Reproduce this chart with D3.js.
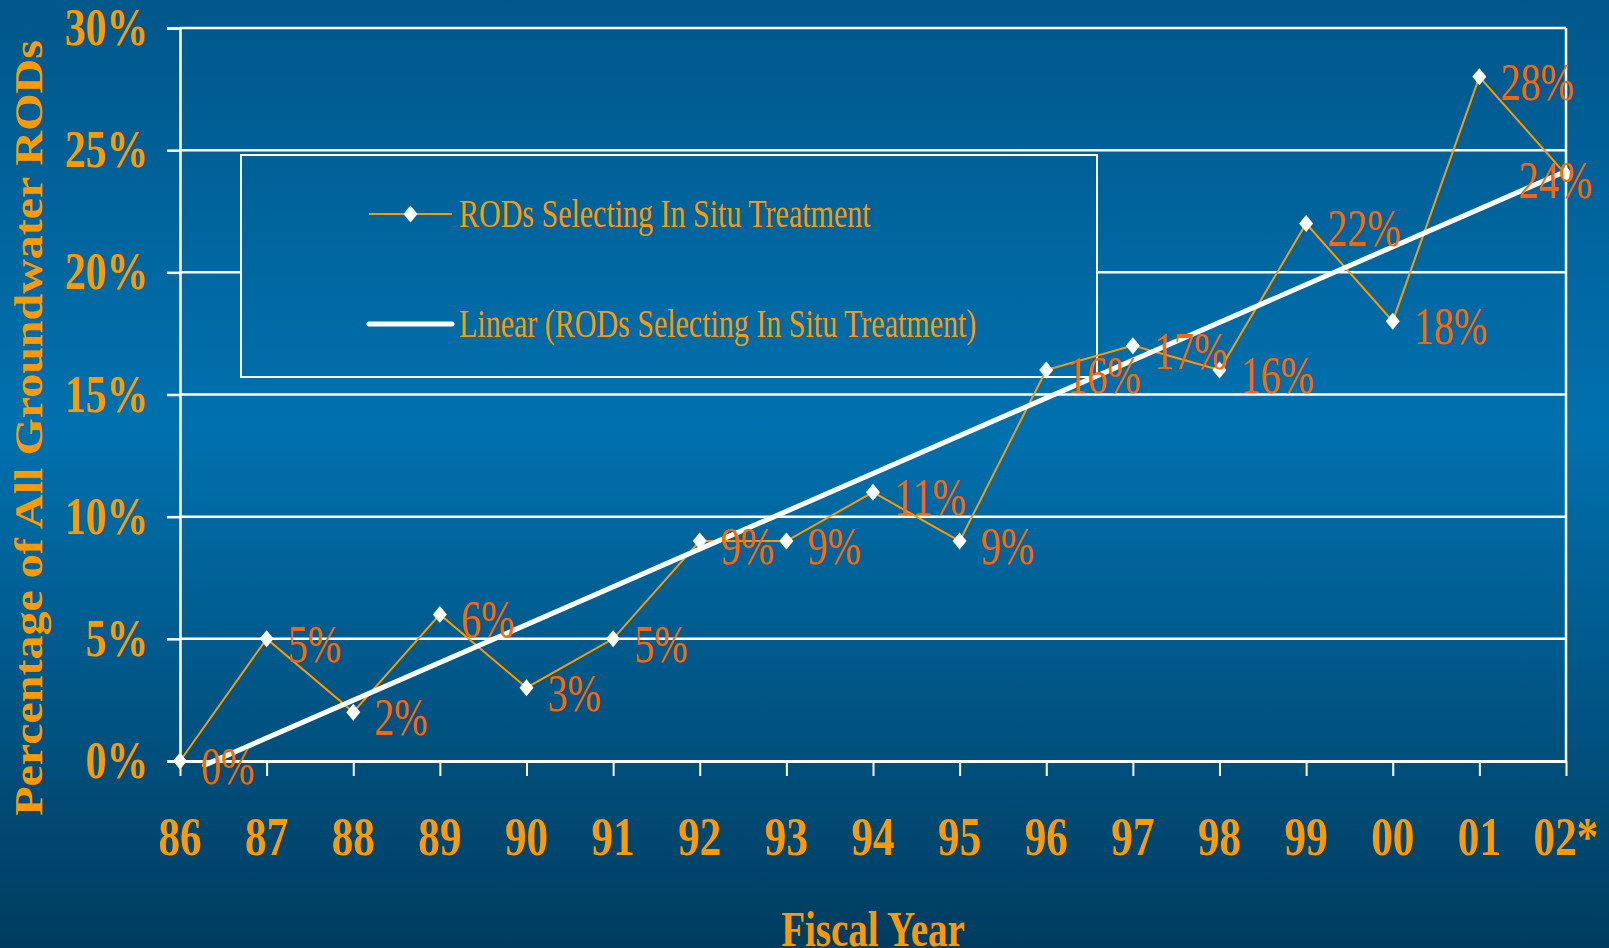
<!DOCTYPE html>
<html>
<head>
<meta charset="utf-8">
<script src="https://cdn.jsdelivr.net/npm/d3@7"></script>
<style>
  html, body { margin: 0; padding: 0; overflow: hidden; background: #004a75; }
  svg { display: block; }
  text { font-family: "Liberation Serif", "Times New Roman", serif; }
</style>
</head>
<body>
<svg id="chart" width="1609" height="948"></svg>
<script>
// ---- data ----
const categories = ["86","87","88","89","90","91","92","93","94","95","96","97","98","99","00","01","02*"];
const values = [0.00,0.05,0.02,0.06,0.03,0.05,0.09,0.09,0.11,0.09,0.16,0.17,0.16,0.22,0.18,0.28,0.24];
const dataLabels = ["0%","5%","2%","6%","3%","5%","9%","9%","11%","9%","16%","17%","16%","22%","18%","28%","24%"];
const yTicks = [0,0.05,0.10,0.15,0.20,0.25,0.30];
const yTickLabels = ["0%","5%","10%","15%","20%","25%","30%"];
const seriesName = "RODs Selecting In Situ Treatment";
const trendName = "Linear (RODs Selecting In Situ Treatment)";
const yTitle = "Percentage of All Groundwater RODs";
const xTitle = "Fiscal Year";

// ---- layout ----
const W = 1609, H = 948;
const plot = {left: 180, right: 1566, top: 28, bottom: 761};
const ORANGE = "#FF9900", LABEL = "#FF6600";
const SX = 0.79; // horizontal compression of text glyphs

const svg = d3.select("#chart");
const defs = svg.append("defs");
const grad = defs.append("linearGradient").attr("id","bg")
  .attr("gradientUnits","userSpaceOnUse").attr("x1",0).attr("y1",0).attr("x2",0).attr("y2",H);
grad.append("stop").attr("offset","0").attr("stop-color","#00578a");
grad.append("stop").attr("offset","0.45").attr("stop-color","#0071ae");
grad.append("stop").attr("offset","1").attr("stop-color","#003c5f");
svg.append("rect").attr("width",W).attr("height",H).attr("fill","url(#bg)");

const x = d3.scalePoint().domain(categories).range([plot.left, plot.right]);
const y = d3.scaleLinear().domain([0,0.30]).range([plot.bottom, plot.top]);

function ctext(g, tx, ty, str, opts) {
  const t = g.append("text")
    .attr("transform", `translate(${tx},${ty}) scale(${opts.sx || SX},1)`)
    .attr("text-anchor", opts.anchor || "start")
    .attr("font-size", opts.size)
    .attr("font-weight", opts.weight || "normal")
    .attr("fill", opts.fill)
    .text(str);
  return t;
}

// gridlines
const grid = svg.append("g");
grid.selectAll("line").data(yTicks.filter(v => v > 0)).join("line")
  .attr("x1", plot.left).attr("x2", plot.right)
  .attr("y1", d => y(d)).attr("y2", d => y(d))
  .attr("stroke","#fff").attr("stroke-width",2.5);
// right border
svg.append("line").attr("x1",plot.right).attr("x2",plot.right)
  .attr("y1",plot.top).attr("y2",plot.bottom).attr("stroke","#fff").attr("stroke-width",2.5);

// y axis
const yAxis = svg.append("g").attr("transform",`translate(${plot.left},0)`)
  .call(d3.axisLeft(y).tickValues(yTicks).tickSize(13).tickFormat(""));
yAxis.select(".domain").attr("stroke","#fff").attr("stroke-width",2.5);
yAxis.selectAll(".tick line").attr("stroke","#fff").attr("stroke-width",2.5);
yTicks.forEach((v,i) => {
  ctext(svg, 148, y(v) + 17, yTickLabels[i], {anchor:"end", size:52, weight:"bold", fill:ORANGE, sx:0.8});
});

// x axis
const xAxis = svg.append("g").attr("transform",`translate(0,${plot.bottom})`)
  .call(d3.axisBottom(x).tickSize(15).tickSizeOuter(0).tickFormat(""));
xAxis.select(".domain").attr("stroke","#fff").attr("stroke-width",3);
xAxis.selectAll(".tick line").attr("stroke","#fff").attr("stroke-width",2);
categories.forEach(c => {
  ctext(svg, x(c), 855, c, {anchor:"middle", size:54, weight:"bold", fill:ORANGE, sx:0.8});
});

// axis titles
ctext(svg, (plot.left + plot.right)/2, 946, xTitle, {anchor:"middle", size:50, weight:"bold", fill:ORANGE, sx:0.78});
svg.append("text")
  .attr("transform","translate(42,428) rotate(-90) scale(1,0.85)")
  .attr("text-anchor","middle").attr("font-size",48).attr("font-weight","bold")
  .attr("fill",ORANGE).text(yTitle);

// legend
const lg = svg.append("g");
lg.append("rect").attr("x",241).attr("y",155).attr("width",856).attr("height",222)
  .attr("fill","url(#bg)").attr("stroke","#fff").attr("stroke-width",2);
lg.append("line").attr("x1",369).attr("x2",452).attr("y1",214).attr("y2",214)
  .attr("stroke",ORANGE).attr("stroke-width",2);
lg.append("path").attr("d",d3.symbol(d3.symbolDiamond2? d3.symbolDiamond : d3.symbolDiamond, 1)())
  .attr("transform","translate(410.5,214)").attr("d","M0,-8.5L7,0L0,8.5L-7,0Z").attr("fill","#fff");
lg.append("line").attr("x1",369).attr("x2",452).attr("y1",324).attr("y2",324)
  .attr("stroke","#fff").attr("stroke-width",5).attr("stroke-linecap","round");
ctext(lg, 459, 227, seriesName, {size:40, fill:ORANGE, sx:0.75});
ctext(lg, 459, 337, trendName, {size:40, fill:ORANGE, sx:0.75});

// series line
const idx = categories.map((c,i) => i);
const line = d3.line().x(i => x(categories[i])).y(i => y(values[i]));
svg.append("path").datum(idx).attr("d", line)
  .attr("fill","none").attr("stroke",ORANGE).attr("stroke-width",2);

// linear trend (least squares over category index)
const n = values.length;
const mx = d3.mean(idx), my = d3.mean(values);
const slope = d3.sum(idx, i => (i-mx)*(values[i]-my)) / d3.sum(idx, i => (i-mx)*(i-mx));
const intercept = my - slope*mx;
const xi = d3.scaleLinear().domain([0, n-1]).range([plot.left, plot.right]);
const floorVal = -0.0017;
const i0 = Math.max(0, (floorVal - intercept)/slope);
svg.append("line")
  .attr("x1", xi(i0)).attr("y1", y(intercept + slope*i0))
  .attr("x2", xi(n-1)).attr("y2", y(intercept + slope*(n-1)))
  .attr("stroke","#fff").attr("stroke-width",5).attr("stroke-linecap","round");

// markers
svg.append("g").selectAll("path").data(idx).join("path")
  .attr("transform", i => `translate(${x(categories[i])},${y(values[i])})`)
  .attr("d","M0,-8.5L7,0L0,8.5L-7,0Z").attr("fill","#fff");

// data labels
const lblG = svg.append("g");
idx.forEach(i => {
  const px = x(categories[i]), py = y(values[i]);
  const t = ctext(lblG, px + 21, py + 23, dataLabels[i], {size:52, fill:LABEL, sx:0.77});
  const w = t.node().getComputedTextLength() * 0.77;
  if (px + 21 + w > 1592) {
    t.attr("transform", `translate(${1592 - w},${py + 23}) scale(0.77,1)`);
  }
});
</script>
</body>
</html>
